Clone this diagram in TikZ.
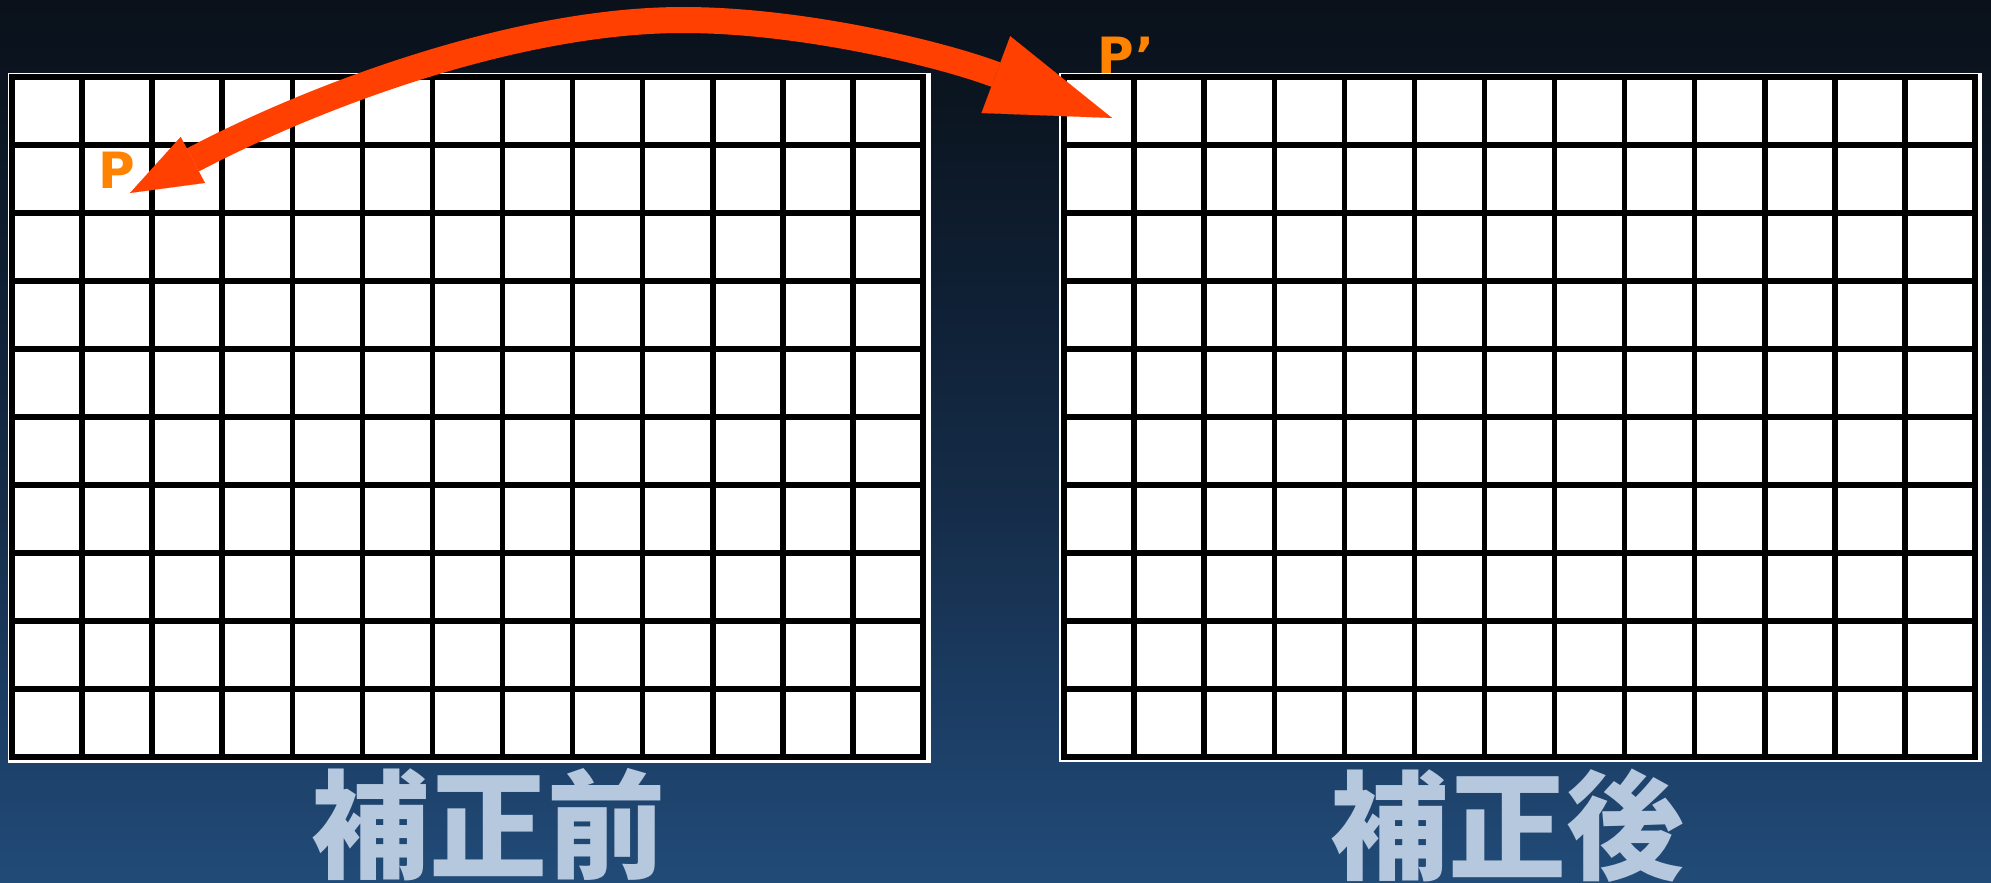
\documentclass[tikz,border=0pt]{standalone}
\usepackage{fontspec}
\usetikzlibrary{arrows.meta}
\newfontfamily\cjk{Noto Sans CJK JP}
\newfontfamily\labfont{DejaVu Sans}
\definecolor{bgA}{RGB}{33,75,120}
\definecolor{bgB}{RGB}{27,60,98}
\definecolor{bgC}{RGB}{21,44,72}
\definecolor{bgD}{RGB}{15,32,53}
\definecolor{bgE}{RGB}{11,21,32}
\definecolor{bgF}{RGB}{10,17,27}
\definecolor{arrowred}{RGB}{255,64,0}
\definecolor{porange}{RGB}{255,130,0}
\definecolor{captxt}{RGB}{181,200,222}
\pgfdeclareverticalshading{bgshade}{100bp}{color(0bp)=(bgA); color(25bp)=(bgA); color(35.5bp)=(bgB); color(46.5bp)=(bgC); color(58bp)=(bgD); color(69.5bp)=(bgE); color(75bp)=(bgF); color(100bp)=(bgF)}
\tikzset{
  gridbox/.style={fill=white, draw=none, inner sep=0pt, outer sep=0pt, rectangle},
  gridline/.style={black, line width=5.5pt, line cap=rect},
  plabel/.style={text=porange, inner sep=0pt, font=\labfont\bfseries\fontsize{50}{50}\selectfont},
  caption/.style={text=captxt, inner sep=0pt, font=\cjk\bfseries\fontsize{118}{118}\selectfont},
  bigarrow/.style={arrowred, line width=26pt,
    {Triangle[length=71pt,width=52pt,line width=0.1pt]}-{Triangle[length=124pt,width=82pt,line width=0.1pt]}}
}
\begin{document}
\begin{tikzpicture}[x=1pt,y=-1pt]
\useasboundingbox (0,0) rectangle (1991,883);
\shade[shading=bgshade] (0,0) rectangle (1991,883);
% grids
\node[gridbox, minimum width=923pt, minimum height=690pt] (gridL) at (469.5,418) {};
\node[gridbox, minimum width=923pt, minimum height=689pt] (gridR) at (1520.5,417.5) {};
\foreach \j in {0,...,10} {
  \draw[gridline] (12,{77+\j*68}) -- (923,{77+\j*68});
  \draw[gridline] (1064,{77+\j*68}) -- (1975,{77+\j*68});
}
\foreach \i in {0,...,13} {
  \draw[gridline] ({12+\i*70.08},77) -- ({12+\i*70.08},757);
  \draw[gridline] ({1064+\i*70.08},77) -- ({1064+\i*70.08},757);
}
% labels
\node[plabel] (P) at (117,170) {P};
\node[plabel] (Pp) at (1126,55) {P’};
\node[caption] (capL) at (488,825) {補正前};
\node[caption] (capR) at (1507,826) {補正後};
% arrow
\coordinate (tipL) at (130,193);
\coordinate (peak) at (683,20);
\coordinate (tipR) at (1112,118);
\draw[bigarrow] (tipL) .. controls (320,93) and (520,20) .. (peak) .. controls (800,20) and (938,53) .. (tipR);
\end{tikzpicture}
\end{document}
